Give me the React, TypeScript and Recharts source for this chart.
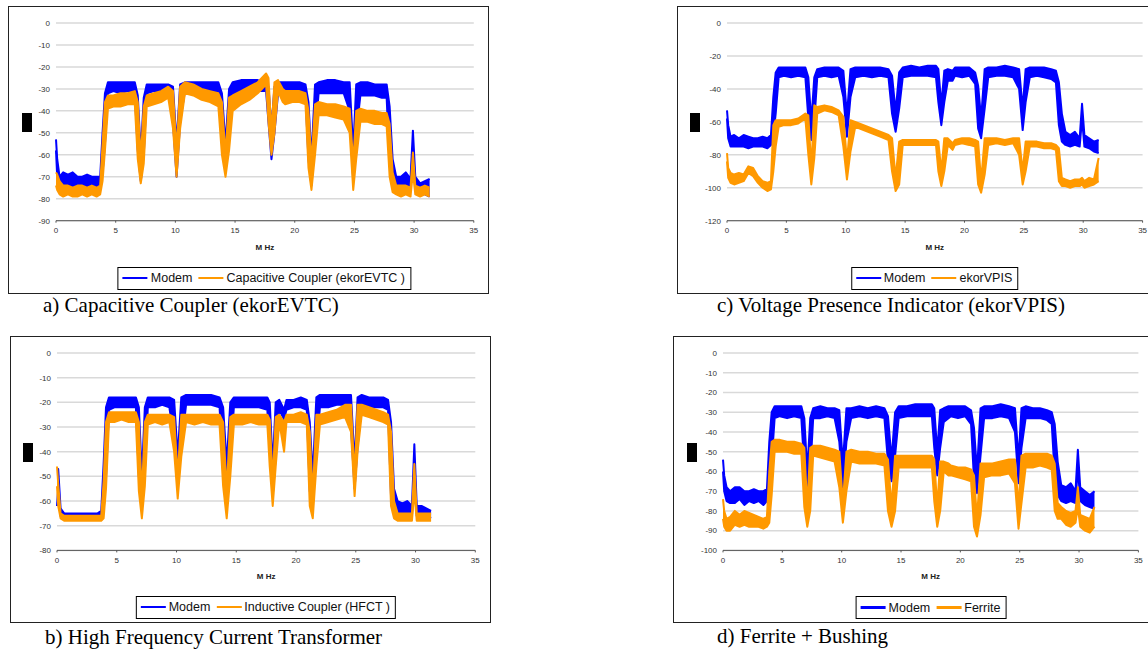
import React from 'react';
import { ComposedChart, Area, XAxis, YAxis, CartesianGrid, Label } from 'recharts';

// frequency grid (MHz) shared by every trace
const freq = [
  0, 0.1, 0.3, 0.6, 1.0, 1.4, 1.8, 2.2, 2.6, 3.0, 3.4, 3.7, 3.9, 4.1, 4.35, 4.8, 5.4, 6.0, 6.6, 6.85,
  7.1, 7.35, 7.6, 8.2, 8.8, 9.4, 9.8, 10.1, 10.4, 10.8, 11.5, 12.2, 12.9, 13.6, 13.9, 14.2, 14.5, 14.8, 15.5, 16.2,
  16.9, 17.6, 17.8, 18.05, 18.3, 18.6, 19.0, 19.2, 19.8, 20.4, 20.9, 21.15, 21.4, 21.7, 22.0, 22.7, 23.4, 24.1, 24.6, 24.9,
  25.15, 25.5, 26.1, 26.7, 27.3, 27.7, 27.95, 28.2, 28.5, 28.9, 29.3, 29.7, 29.9, 30.1, 30.5, 30.9, 31.3,
];

const xTicks = [0, 5, 10, 15, 20, 25, 30, 35];

// each entry: [upper, lower] edge of the noisy trace, dB
const modemA = [
  [-53, -58], [-62, -70], [-70, -76], [-68, -75], [-69, -76], [-68, -75], [-70, -76], [-70, -75], [-69, -75], [-70, -75],
  [-70, -76], [-70, -75], [-50, -68], [-32, -55], [-27, -32], [-27, -31], [-27, -32], [-27, -31], [-27, -32], [-33, -58],
  [-60, -72], [-34, -60], [-28, -32], [-28, -31], [-28, -31], [-28, -31], [-29, -45], [-55, -70], [-28, -45], [-27, -31],
  [-27, -32], [-27, -31], [-27, -32], [-27, -32], [-32, -55], [-55, -66], [-30, -52], [-27, -33], [-26, -32], [-26, -32],
  [-26, -31], [-27, -31], [-29, -45], [-48, -62], [-29, -50], [-27, -32], [-27, -31], [-27, -32], [-27, -31], [-27, -32],
  [-28, -33], [-36, -62], [-62, -74], [-28, -52], [-27, -32], [-26, -32], [-26, -32], [-27, -32], [-27, -40], [-58, -72],
  [-28, -50], [-27, -33], [-27, -33], [-28, -33], [-28, -34], [-28, -34], [-38, -65], [-62, -74], [-70, -75], [-70, -75],
  [-68, -75], [-71, -75], [-49, -56], [-70, -76], [-73, -77], [-72, -78], [-71, -79],
];
const couplerA = [
  [-68, -74], [-69, -76], [-72, -78], [-74, -79], [-74, -78], [-75, -79], [-74, -79], [-74, -78], [-75, -79], [-74, -78],
  [-75, -79], [-74, -78], [-55, -72], [-36, -58], [-33, -39], [-33, -38], [-32, -38], [-32, -37], [-31, -37], [-36, -62],
  [-62, -73], [-38, -64], [-33, -38], [-32, -37], [-31, -36], [-29, -34], [-31, -48], [-58, -70], [-29, -48], [-27, -32],
  [-28, -33], [-30, -35], [-31, -36], [-32, -38], [-36, -60], [-60, -70], [-34, -58], [-33, -40], [-31, -37], [-29, -35],
  [-27, -32], [-23, -28], [-25, -45], [-50, -60], [-27, -50], [-26, -31], [-30, -36], [-31, -37], [-31, -36], [-31, -36],
  [-32, -37], [-40, -66], [-64, -76], [-37, -60], [-36, -42], [-37, -42], [-37, -43], [-38, -44], [-39, -50], [-64, -76],
  [-40, -62], [-39, -45], [-40, -45], [-40, -46], [-41, -46], [-41, -47], [-46, -70], [-68, -77], [-74, -78], [-74, -79],
  [-74, -78], [-75, -79], [-59, -68], [-74, -78], [-75, -79], [-74, -78], [-75, -79],
];

const modemB = [
  [-47, -62], [-47, -55], [-63, -66], [-65, -67], [-65, -67], [-65, -67], [-65, -67], [-65, -67], [-65, -67], [-65, -67],
  [-65, -67], [-64, -66], [-45, -64], [-22, -50], [-18, -23], [-18, -22], [-18, -22], [-18, -22], [-18, -22], [-22, -50],
  [-50, -62], [-22, -48], [-18, -22], [-18, -22], [-18, -21], [-18, -22], [-19, -35], [-42, -53], [-18, -38], [-17, -21],
  [-17, -21], [-17, -21], [-17, -21], [-18, -22], [-22, -46], [-45, -57], [-20, -42], [-18, -22], [-18, -22], [-18, -22],
  [-18, -22], [-18, -23], [-20, -40], [-46, -58], [-20, -42], [-19, -23], [-23, -27], [-19, -23], [-19, -22], [-18, -22],
  [-19, -23], [-28, -56], [-50, -62], [-18, -40], [-17, -22], [-17, -22], [-17, -21], [-17, -21], [-17, -30], [-45, -55],
  [-18, -38], [-17, -21], [-18, -22], [-18, -22], [-18, -22], [-19, -23], [-28, -58], [-55, -65], [-60, -65], [-61, -66],
  [-60, -65], [-62, -66], [-37, -46], [-62, -66], [-62, -66], [-63, -66], [-64, -67],
];
const couplerB = [
  [-46, -54], [-53, -62], [-65, -67], [-66, -68], [-66, -68], [-66, -68], [-66, -68], [-66, -68], [-66, -68], [-66, -68],
  [-66, -68], [-66, -68], [-52, -67], [-28, -55], [-24, -28], [-24, -28], [-24, -27], [-24, -28], [-24, -28], [-28, -56],
  [-58, -67], [-28, -54], [-25, -29], [-25, -28], [-25, -29], [-25, -28], [-26, -40], [-50, -59], [-25, -42], [-25, -28],
  [-25, -29], [-25, -28], [-25, -29], [-25, -29], [-28, -54], [-56, -67], [-26, -50], [-25, -29], [-25, -29], [-25, -28],
  [-25, -29], [-25, -29], [-27, -46], [-52, -62], [-26, -46], [-25, -28], [-28, -40], [-25, -28], [-25, -28], [-24, -28],
  [-25, -29], [-32, -62], [-58, -67], [-25, -46], [-25, -29], [-24, -28], [-23, -27], [-21, -26], [-21, -32], [-50, -58],
  [-21, -40], [-21, -25], [-22, -26], [-23, -27], [-24, -28], [-25, -29], [-32, -62], [-60, -67], [-65, -68], [-65, -68],
  [-65, -68], [-65, -68], [-45, -56], [-65, -68], [-65, -68], [-65, -68], [-65, -68],
];

const modemC = [
  [-53, -58], [-62, -70], [-69, -75], [-68, -75], [-70, -75], [-68, -75], [-69, -76], [-70, -75], [-70, -75], [-69, -75],
  [-70, -76], [-68, -74], [-45, -68], [-30, -55], [-27, -33], [-27, -32], [-27, -33], [-27, -32], [-27, -33], [-33, -58],
  [-60, -71], [-33, -60], [-28, -33], [-27, -32], [-27, -33], [-27, -32], [-29, -45], [-56, -69], [-28, -45], [-27, -33],
  [-27, -32], [-27, -33], [-27, -32], [-28, -33], [-32, -55], [-54, -66], [-30, -52], [-27, -33], [-26, -32], [-27, -32],
  [-26, -32], [-26, -33], [-28, -48], [-50, -62], [-29, -48], [-28, -35], [-29, -35], [-27, -32], [-27, -33], [-27, -32],
  [-30, -37], [-38, -64], [-58, -70], [-28, -52], [-27, -33], [-27, -32], [-26, -32], [-27, -33], [-28, -40], [-52, -65],
  [-28, -48], [-27, -33], [-27, -32], [-27, -33], [-28, -34], [-29, -36], [-36, -62], [-55, -72], [-66, -74], [-68, -75],
  [-66, -74], [-70, -75], [-49, -58], [-68, -75], [-70, -76], [-72, -78], [-71, -79],
];
const vpisC = [
  [-79, -84], [-88, -94], [-91, -97], [-92, -98], [-91, -97], [-92, -96], [-87, -91], [-88, -93], [-93, -97], [-96, -100],
  [-97, -102], [-96, -101], [-62, -90], [-59, -75], [-59, -63], [-59, -62], [-59, -62], [-58, -61], [-55, -58], [-56, -80],
  [-88, -98], [-50, -82], [-51, -55], [-50, -53], [-51, -54], [-53, -56], [-57, -75], [-84, -95], [-59, -78], [-60, -63],
  [-62, -65], [-64, -67], [-66, -69], [-68, -71], [-70, -90], [-94, -102], [-72, -98], [-71, -74], [-71, -74], [-71, -74],
  [-71, -74], [-71, -74], [-72, -90], [-90, -99], [-70, -90], [-70, -74], [-73, -77], [-71, -74], [-70, -73], [-70, -74],
  [-71, -75], [-72, -98], [-96, -103], [-70, -92], [-70, -74], [-70, -73], [-71, -74], [-70, -73], [-70, -80], [-90, -98],
  [-72, -90], [-72, -75], [-72, -75], [-73, -76], [-73, -76], [-74, -77], [-76, -96], [-94, -99], [-95, -99], [-96, -100],
  [-95, -99], [-95, -99], [-94, -98], [-96, -100], [-94, -99], [-95, -98], [-82, -96],
];

const modemD = [
  [-54, -60], [-62, -70], [-68, -75], [-70, -76], [-68, -76], [-68, -74], [-70, -77], [-70, -75], [-69, -76], [-70, -75],
  [-70, -77], [-69, -75], [-45, -68], [-30, -55], [-27, -33], [-27, -32], [-27, -33], [-27, -32], [-27, -33], [-33, -58],
  [-60, -71], [-33, -60], [-28, -33], [-27, -33], [-28, -32], [-28, -33], [-29, -45], [-56, -69], [-28, -45], [-28, -33],
  [-27, -32], [-28, -33], [-27, -32], [-28, -33], [-32, -55], [-54, -65], [-30, -52], [-27, -33], [-27, -32], [-26, -32],
  [-26, -32], [-26, -32], [-28, -48], [-50, -62], [-29, -48], [-28, -35], [-27, -33], [-27, -32], [-27, -33], [-27, -32],
  [-29, -36], [-38, -64], [-60, -71], [-28, -52], [-27, -33], [-27, -33], [-26, -32], [-27, -33], [-28, -40], [-54, -66],
  [-28, -48], [-27, -33], [-28, -33], [-28, -33], [-29, -34], [-30, -36], [-36, -62], [-55, -72], [-67, -75], [-68, -76],
  [-66, -75], [-70, -76], [-49, -58], [-68, -75], [-70, -77], [-72, -78], [-70, -79],
];
const ferriteD = [
  [-74, -84], [-80, -88], [-84, -90], [-83, -90], [-80, -87], [-82, -88], [-80, -87], [-81, -88], [-82, -88], [-83, -88],
  [-84, -89], [-83, -88], [-60, -86], [-45, -72], [-44, -50], [-44, -50], [-45, -50], [-45, -51], [-46, -51], [-48, -78],
  [-78, -88], [-48, -80], [-47, -52], [-47, -53], [-48, -54], [-49, -55], [-50, -68], [-76, -86], [-50, -70], [-49, -55],
  [-50, -56], [-50, -56], [-51, -56], [-51, -57], [-54, -80], [-78, -88], [-52, -80], [-52, -58], [-52, -58], [-52, -58],
  [-52, -58], [-52, -58], [-54, -75], [-78, -88], [-55, -80], [-55, -60], [-56, -62], [-57, -62], [-58, -63], [-58, -64],
  [-59, -65], [-62, -88], [-84, -93], [-56, -82], [-56, -63], [-56, -62], [-55, -62], [-54, -61], [-54, -66], [-78, -89],
  [-52, -76], [-51, -58], [-51, -58], [-51, -57], [-51, -58], [-52, -59], [-56, -80], [-76, -84], [-78, -84], [-80, -87],
  [-81, -88], [-80, -86], [-68, -78], [-82, -88], [-83, -90], [-84, -91], [-78, -88],
];

const yTicksA = [0, -10, -20, -30, -40, -50, -60, -70, -80, -90];
const yTicksB = [0, -10, -20, -30, -40, -50, -60, -70, -80];
const yTicksC = [0, -20, -40, -60, -80, -100, -120];
const yTicksD = [0, -10, -20, -30, -40, -50, -60, -70, -80, -90, -100];

const BLUE = '#0000ff';
const ORANGE = '#ff9900';

const rows = (modem: number[][], other: number[][]) =>
  freq.map((f, i) => ({ f, modem: modem[i], other: other[i] }));

type PanelProps = {
  box: { left: number; top: number; width: number; height: number };
  plot: { left: number; top: number; right: number; bottom: number };
  tagLeft: number;
  yTicks: number[];
  modem: number[][];
  other: number[][];
  otherName: string;
  caption: string;
  captionLeft: number;
  captionTop: number;
  legendTop: number;
};

const YW = 45;
const MT = 6;
const MR = 12;
const XH = 34;

const Panel = (p: PanelProps) => {
  const plotW = p.plot.right - p.plot.left;
  const plotH = p.plot.bottom - p.plot.top;
  const data = rows(p.modem, p.other);
  const yMin = p.yTicks[p.yTicks.length - 1];
  const cx = (p.plot.left + p.plot.right) / 2;
  return (
    <>
      <div
        style={{
          position: 'absolute',
          left: p.box.left,
          top: p.box.top,
          width: p.box.width,
          height: p.box.height,
          border: '1.5px solid #222',
          boxSizing: 'border-box',
        }}
      />
      <div
        style={{
          position: 'absolute',
          left: p.tagLeft,
          top: (p.plot.top + p.plot.bottom) / 2 - 9.5,
          width: 10,
          height: 19,
          background: '#000',
        }}
      />
      <div style={{ position: 'absolute', left: p.plot.left - YW, top: p.plot.top - MT }}>
        <ComposedChart
          width={YW + plotW + MR}
          height={MT + plotH + XH}
          data={data}
          margin={{ top: MT, right: MR, left: 0, bottom: 0 }}
        >
          <CartesianGrid vertical={false} stroke="#d9d9d9" strokeWidth={1.5} />
          <XAxis
            dataKey="f"
            type="number"
            domain={[0, 35]}
            ticks={xTicks}
            interval={0}
            height={XH}
            stroke="#555"
            tickSize={2}
            tickMargin={5}
            tick={{ fontSize: 8, fill: '#333', fontFamily: 'Arial, "Liberation Sans"' }}
          >
            <Label
              value="M Hz"
              position="insideBottom"
              offset={5}
              style={{ fontSize: 8, fontWeight: 'bold', fill: '#222', fontFamily: 'Arial, "Liberation Sans"' }}
            />
          </XAxis>
          <YAxis
            type="number"
            domain={[yMin, 0]}
            ticks={p.yTicks}
            interval={0}
            width={YW}
            axisLine={false}
            tickLine={false}
            tickSize={0}
            tickMargin={6}
            tick={{ fontSize: 8, fill: '#333', fontFamily: 'Arial, "Liberation Sans"' }}
          />
          <Area
            type="linear"
            dataKey="modem"
            stroke={BLUE}
            strokeWidth={2}
            strokeLinejoin="round"
            fill={BLUE}
            fillOpacity={1}
            dot={false}
            activeDot={false}
            isAnimationActive={false}
          />
          <Area
            type="linear"
            dataKey="other"
            stroke={ORANGE}
            strokeWidth={2}
            strokeLinejoin="round"
            fill={ORANGE}
            fillOpacity={1}
            dot={false}
            activeDot={false}
            isAnimationActive={false}
          />
        </ComposedChart>
      </div>
      <div
        style={{
          position: 'absolute',
          left: cx,
          top: p.legendTop,
          transform: 'translateX(-50%)',
          height: 23,
          border: '1px solid #000',
          boxSizing: 'border-box',
          display: 'flex',
          alignItems: 'center',
          padding: '0 5px 0 4px',
          fontFamily: 'Arial, "Liberation Sans"',
          fontSize: 12.5,
          color: '#111',
          whiteSpace: 'nowrap',
          background: '#fff',
        }}
      >
        <span style={{ display: 'inline-block', width: 25, height: 2.5, background: BLUE, marginRight: 3 }} />
        <span>Modem</span>
        <span style={{ display: 'inline-block', width: 25, height: 2.5, background: ORANGE, margin: '0 3px 0 6px' }} />
        <span>{p.otherName}</span>
      </div>
      <div
        style={{
          position: 'absolute',
          left: p.captionLeft,
          top: p.captionTop,
          fontFamily: '"Times New Roman", "Liberation Serif", serif',
          fontSize: 21,
          lineHeight: 1,
          whiteSpace: 'nowrap',
          color: '#000',
        }}
      >
        {p.caption}
      </div>
    </>
  );
};

export default function App() {
  return (
    <div
      style={{
        position: 'absolute',
        left: 0,
        top: 0,
        width: 1148,
        height: 650,
        overflow: 'hidden',
        background: '#fff',
      }}
    >
      <Panel
        box={{ left: 8, top: 6, width: 481, height: 288 }}
        plot={{ left: 55.5, top: 23.3, right: 473.3, bottom: 221 }}
        tagLeft={22}
        yTicks={yTicksA}
        modem={modemA}
        other={couplerA}
        otherName="Capacitive Coupler (ekorEVTC )"
        caption="a) Capacitive Coupler (ekorEVTC)"
        captionLeft={43}
        captionTop={295}
        legendTop={266.5}
      />
      <Panel
        box={{ left: 677, top: 6, width: 480, height: 288 }}
        plot={{ left: 726.7, top: 23.3, right: 1142.3, bottom: 221 }}
        tagLeft={690}
        yTicks={yTicksC}
        modem={modemC}
        other={vpisC}
        otherName="ekorVPIS"
        caption="c) Voltage Presence Indicator (ekorVPIS)"
        captionLeft={717}
        captionTop={295}
        legendTop={266.5}
      />
      <Panel
        box={{ left: 9.5, top: 336, width: 481, height: 287 }}
        plot={{ left: 56.7, top: 353.3, right: 475, bottom: 550.7 }}
        tagLeft={23}
        yTicks={yTicksB}
        modem={modemB}
        other={couplerB}
        otherName="Inductive Coupler (HFCT )"
        caption="b) High Frequency Current Transformer"
        captionLeft={45}
        captionTop={627}
        legendTop={595.5}
      />
      <Panel
        box={{ left: 673.3, top: 336, width: 485, height: 287 }}
        plot={{ left: 723.3, top: 353.3, right: 1138.7, bottom: 550.7 }}
        tagLeft={687}
        yTicks={yTicksD}
        modem={modemD}
        other={ferriteD}
        otherName="Ferrite"
        caption="d) Ferrite + Bushing"
        captionLeft={717}
        captionTop={626}
        legendTop={596}
      />
    </div>
  );
}
